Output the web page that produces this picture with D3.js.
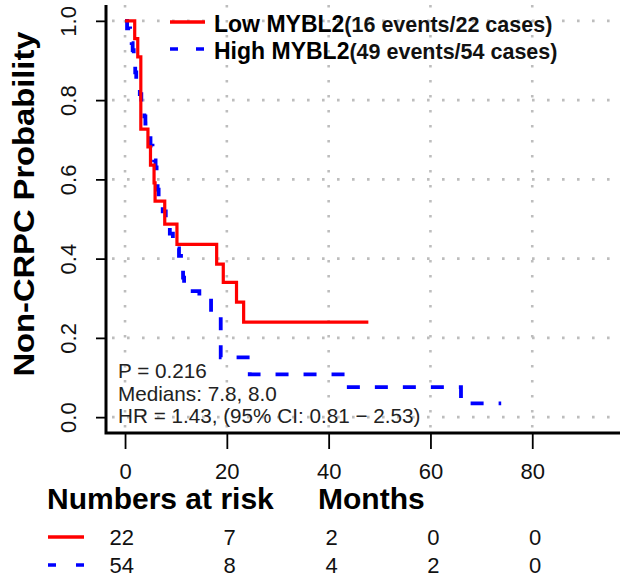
<!DOCTYPE html>
<html><head><meta charset="utf-8">
<script src="https://cdn.jsdelivr.net/npm/d3@7"></script>
<style>body{margin:0;background:#fff}svg{display:block;font-family:"Liberation Sans",Arial,sans-serif}</style>
</head><body>
<svg id="c" width="630" height="581"></svg>
<script>
// ---- data ----
const lowTimes = [0, 1.9, 2.5, 3.1, 4.5, 5.0, 5.7, 5.9, 7.8, 10.2, 18.0, 19.3, 21.9, 23.3, 47.8];
const lowSurv  = [1, 0.955, 0.909, 0.727, 0.682, 0.636, 0.591, 0.545, 0.487, 0.436, 0.386, 0.340, 0.290, 0.240, 0.240];
const highTimes = [0, 0.4, 1.0, 1.3, 1.5, 1.7, 1.9, 2.0, 2.2, 2.6, 2.9, 3.2, 3.5, 3.8, 4.0, 4.4, 4.7, 5.0, 5.4, 5.7, 6.0, 6.2, 6.3, 6.4, 6.6, 7.0, 7.4, 8.0, 8.3, 8.8, 9.4, 10.2, 10.6, 11.0, 11.2, 11.4, 11.6, 11.8, 14.6, 16.9, 18.8, 24.5, 43.3, 66.0, 73.9];
const highSurv  = [1, 0.981, 0.963, 0.944, 0.926, 0.907, 0.889, 0.870, 0.852, 0.833, 0.815, 0.796, 0.778, 0.759, 0.741, 0.722, 0.704, 0.685, 0.667, 0.648, 0.630, 0.611, 0.593, 0.574, 0.556, 0.537, 0.519, 0.500, 0.481, 0.463, 0.444, 0.426, 0.407, 0.389, 0.370, 0.352, 0.333, 0.318, 0.300, 0.262, 0.151, 0.108, 0.076, 0.035, 0.035];
const xTicks = [0, 20, 40, 60, 80];
const yTicks = [0, 0.2, 0.4, 0.6, 0.8, 1.0];
const riskTimes = [0, 20, 40, 60, 80];
const riskLow  = [22, 7, 2, 0, 0];
const riskHigh = [54, 8, 4, 2, 0];
const legendLabels = ["Low MYBL2", "High MYBL2"];
const legendCounts = ["(16 events/22 cases)", "(49 events/54 cases)"];
const statLines = ["P = 0.216", "Medians: 7.8, 8.0", "HR = 1.43, (95% CI: 0.81 \u2212 2.53)"];

// ---- drawing ----
const svg = d3.select("#c");
const x = d3.scaleLinear().domain([-3.74, 97.24]).range([106, 620]);
const y = d3.scaleLinear().domain([-0.04, 1.04]).range([433, 5]);

// grid
const grid = svg.append("g").attr("stroke", "#bdbdbd").attr("stroke-width", 2.6).attr("stroke-dasharray", "2.6 12.4");
grid.selectAll(".gv").data(xTicks).join("line")
  .attr("x1", d => x(d)).attr("x2", d => x(d)).attr("y1", 5).attr("y2", 433);
grid.selectAll(".gh").data(yTicks).join("line")
  .attr("x1", 112).attr("x2", 620).attr("y1", d => y(d)).attr("y2", d => y(d));

// axes
const xAxis = svg.append("g").attr("transform", "translate(0,433)")
  .call(d3.axisBottom(x).tickValues(xTicks).tickSize(16).tickPadding(14).tickFormat(d3.format("d")));
xAxis.select(".domain").remove();
xAxis.selectAll("line").attr("stroke", "#000").attr("stroke-width", 1.8);
xAxis.selectAll("text").attr("font-size", 22).attr("fill", "#111");

const yAxis = svg.append("g").attr("transform", "translate(106,0)")
  .call(d3.axisLeft(y).tickValues(yTicks).tickSize(10).tickFormat(d3.format(".1f")));
yAxis.select(".domain").remove();
yAxis.selectAll("line").attr("stroke", "#000").attr("stroke-width", 1.8);
yAxis.selectAll("text").attr("font-size", 22).attr("fill", "#111")
  .attr("text-anchor", "middle").attr("x", null).attr("dy", null)
  .attr("transform", "translate(-30,0) rotate(-90)").attr("y", 0);

// L-box
svg.append("path").attr("d", `M106,5 V433 H620`).attr("fill", "none").attr("stroke", "#000").attr("stroke-width", 3);

// curves
const line = d3.line().x(d => x(d[0])).y(d => y(d[1])).curve(d3.curveStepAfter);
svg.append("path").datum(highTimes.map((t, i) => [t, highSurv[i]]))
  .attr("d", line).attr("fill", "none").attr("stroke", "#0000ff").attr("stroke-width", 3.8)
  .attr("stroke-dasharray", "13 15");
svg.append("path").datum(lowTimes.map((t, i) => [t, lowSurv[i]]))
  .attr("d", line).attr("fill", "none").attr("stroke", "#ff0000").attr("stroke-width", 3.2);

// legend
const legColors = ["#ff0000", "#0000ff"];
const legDash = [null, "8 18"];
legendLabels.forEach((lab, i) => {
  const yy = 22 + i * 27;
  svg.append("line").attr("x1", 170).attr("x2", 205).attr("y1", yy).attr("y2", yy)
    .attr("stroke", legColors[i]).attr("stroke-width", 3.6).attr("stroke-dasharray", legDash[i]);
  const t = svg.append("text").attr("x", 214).attr("y", yy + 10).attr("font-weight", "bold").attr("fill", "#000");
  t.append("tspan").attr("font-size", 23).text(lab);
  t.append("tspan").attr("font-size", 21.5).attr("fill", "#111").text(legendCounts[i]);
});

// stats text
svg.selectAll(".stat").data(statLines).join("text")
  .attr("x", 118).attr("y", (d, i) => 378 + i * 22.5)
  .attr("font-size", 20.7).attr("fill", "#222").text(d => d);

// y title
svg.append("text").attr("transform", "translate(34,204) rotate(-90)")
  .attr("text-anchor", "middle").attr("font-weight", "bold").attr("font-size", 30)
  .attr("textLength", 345).attr("lengthAdjust", "spacingAndGlyphs").text("Non-CRPC Probability");

// risk table
svg.append("text").attr("x", 47).attr("y", 509).attr("font-weight", "bold").attr("font-size", 30).text("Numbers at risk");
svg.append("text").attr("x", 318).attr("y", 509).attr("font-weight", "bold").attr("font-size", 30).text("Months");
[[riskLow, "#ff0000", null, 545], [riskHigh, "#0000ff", "8 20", 573]].forEach(([vals, col, dash, by]) => {
  svg.append("line").attr("x1", 48).attr("x2", 84).attr("y1", by - 8).attr("y2", by - 8)
    .attr("stroke", col).attr("stroke-width", 3.6).attr("stroke-dasharray", dash);
  svg.selectAll(null).data(vals).join("text")
    .attr("x", (d, i) => x(riskTimes[i]) + 9).attr("y", by)
    .attr("text-anchor", "end").attr("font-size", 22).attr("fill", "#111").text(d => d);
});
</script>
</body></html>
